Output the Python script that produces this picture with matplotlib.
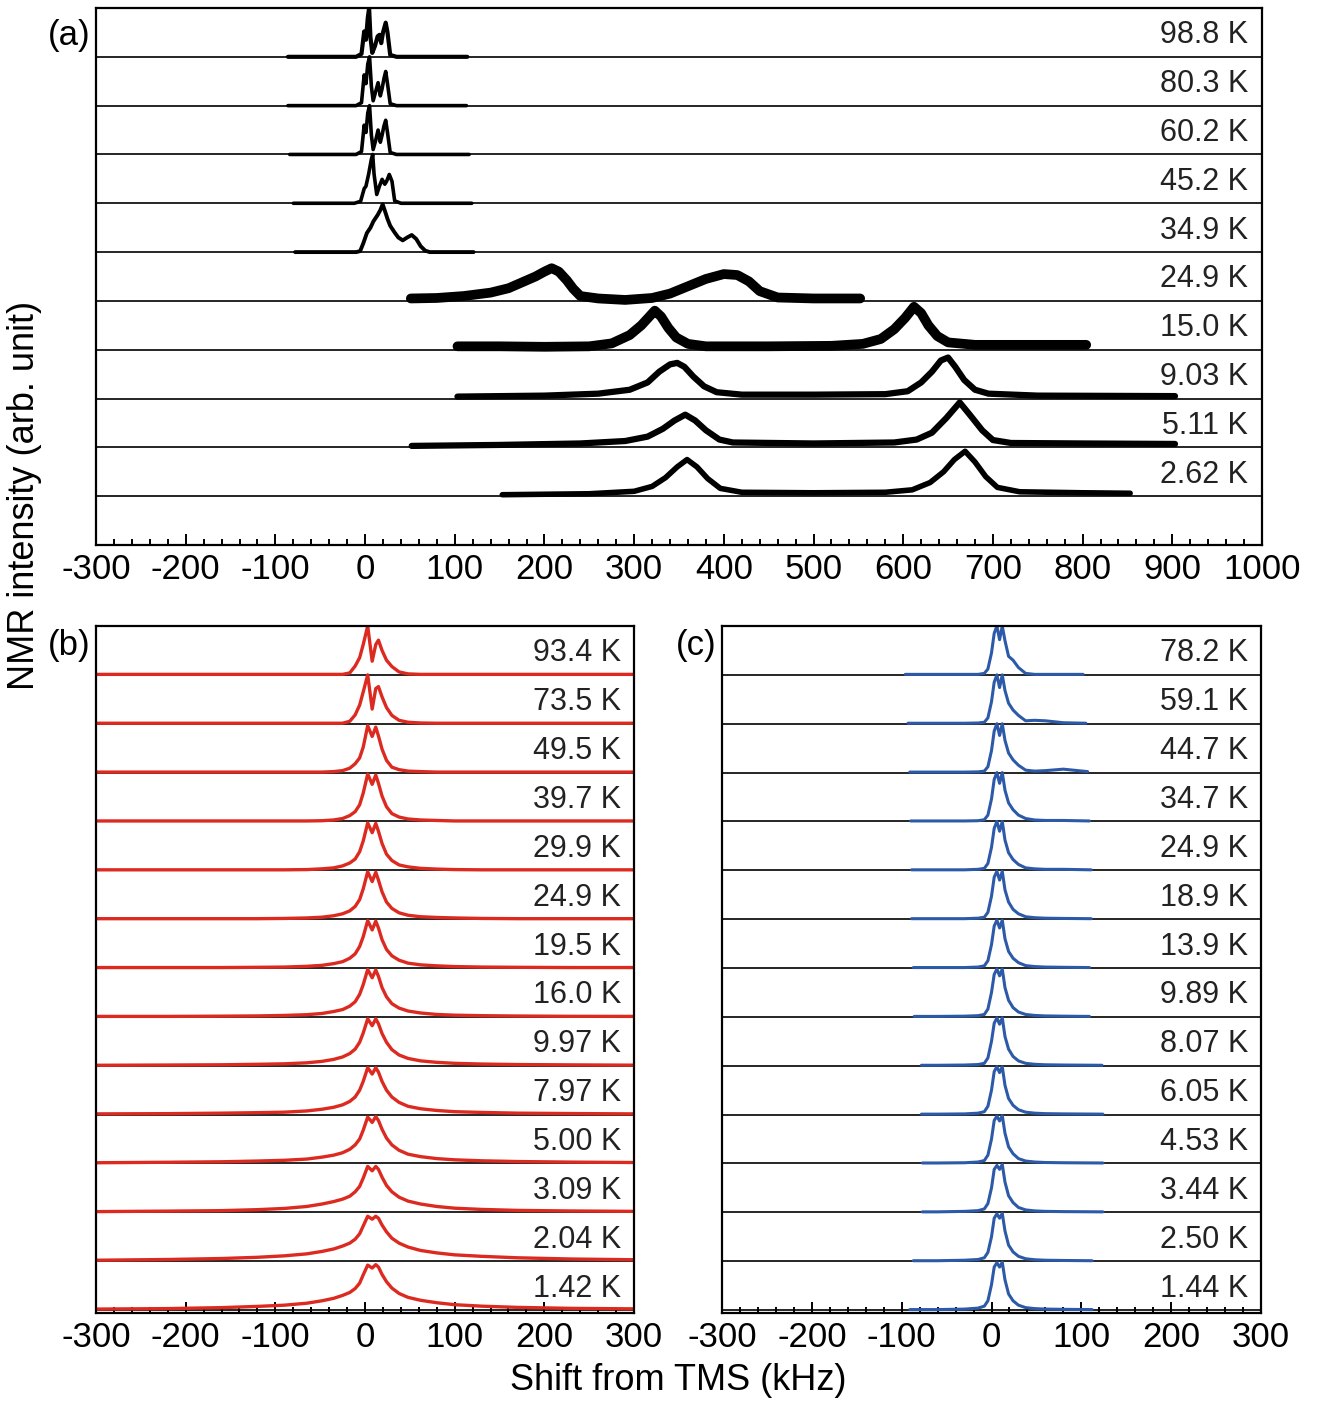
import matplotlib
matplotlib.use("Agg")
import matplotlib.pyplot as plt
import matplotlib.transforms as mtransforms
from matplotlib.ticker import MultipleLocator

plt.rcParams['font.family'] = ['Liberation Sans', 'DejaVu Sans']
plt.rcParams['axes.unicode_minus'] = False

# ─── panel (a): spectra, intensity in units of the stacking step ───
a_temps = ["98.8 K", "80.3 K", "60.2 K", "45.2 K", "34.9 K",
           "24.9 K", "15.0 K", "9.03 K", "5.11 K", "2.62 K"]

a_x = [
    [-86, -10, -4, -1, 1, 3, 4.5, 6, 8, 11, 14, 16, 18, 20, 23, 25, 28, 35, 114],
    [-86, -10, -4, -1, 1, 3, 5, 7, 9, 12, 14.5, 17, 19, 21, 23, 25, 28, 35, 113],
    [-84, -10, -4, -1, 1, 3, 5, 7, 9, 12, 14.5, 17, 19, 21, 23, 25, 28, 35, 116],
    [-80, -12, -5, -1, 1, 4, 7, 8.5, 10, 13, 16, 19, 22, 24, 27, 30, 33, 40, 119],
    [-78, -10, -5.5, -2, 2, 6, 9.3, 14, 17, 19.6, 22, 25, 28, 33, 37, 42, 47, 52, 57, 62, 67, 72, 121],
    [51, 80, 110, 140, 160, 175, 190, 200, 208, 216, 225, 232, 240, 260, 290, 320, 340, 360,
     380, 400, 415, 428, 440, 460, 500, 552],
    [103, 150, 200, 250, 275, 295, 308, 318, 323, 330, 338, 347, 360, 380, 450, 520, 555, 575,
     590, 602, 612, 620, 628, 638, 650, 680, 750, 804],
    [103, 200, 260, 295, 315, 328, 340, 348, 356, 366, 378, 392, 420, 500, 580, 605, 620, 632,
     642, 650, 658, 668, 680, 695, 750, 903],
    [52, 150, 240, 290, 315, 332, 345, 357, 368, 380, 395, 410, 500, 590, 615, 632, 648, 663,
     675, 688, 700, 720, 800, 903],
    [153, 250, 300, 320, 335, 348, 359, 370, 382, 396, 420, 500, 580, 610, 630, 645, 657, 669,
     680, 692, 705, 730, 800, 853],
]
a_y = [
    [0, 0, 0.06, 0.52, 0.35, 0.8, 1.0, 0.4, 0.08, 0.22, 0.42, 0.45, 0.28, 0.5, 0.7, 0.5, 0.04, 0, 0],
    [0, 0, 0.06, 0.63, 0.45, 0.85, 1.0, 0.4, 0.1, 0.3, 0.47, 0.2, 0.35, 0.55, 0.7, 0.45, 0.04, 0, 0],
    [0, 0, 0.06, 0.6, 0.45, 0.85, 1.0, 0.4, 0.1, 0.3, 0.5, 0.25, 0.4, 0.58, 0.7, 0.45, 0.04, 0, 0],
    [0, 0, 0.04, 0.3, 0.35, 0.6, 0.9, 1.0, 0.6, 0.18, 0.35, 0.49, 0.39, 0.45, 0.59, 0.45, 0.05, 0, 0],
    [0, 0, 0.02, 0.18, 0.39, 0.5, 0.63, 0.76, 0.86, 0.98, 0.85, 0.68, 0.54, 0.4, 0.3, 0.24,
     0.3, 0.35, 0.27, 0.12, 0.03, 0, 0],
    [0.05, 0.06, 0.1, 0.17, 0.26, 0.38, 0.5, 0.6, 0.67, 0.6, 0.42, 0.25, 0.1, 0.05, 0.02, 0.06,
     0.15, 0.3, 0.45, 0.55, 0.53, 0.4, 0.2, 0.07, 0.05, 0.05],
    [0.07, 0.07, 0.06, 0.07, 0.13, 0.3, 0.5, 0.7, 0.8, 0.68, 0.45, 0.25, 0.12, 0.07, 0.07, 0.08,
     0.12, 0.22, 0.42, 0.65, 0.88, 0.75, 0.5, 0.28, 0.15, 0.1, 0.1, 0.1],
    [0.04, 0.06, 0.1, 0.18, 0.33, 0.55, 0.7, 0.73, 0.65, 0.45, 0.25, 0.13, 0.08, 0.08, 0.09, 0.15,
     0.33, 0.55, 0.78, 0.84, 0.65, 0.38, 0.18, 0.1, 0.06, 0.05],
    [0.03, 0.05, 0.08, 0.13, 0.22, 0.38, 0.55, 0.67, 0.55, 0.35, 0.16, 0.1, 0.08, 0.1, 0.16, 0.3,
     0.6, 0.92, 0.65, 0.35, 0.15, 0.09, 0.08, 0.07],
    [0.03, 0.05, 0.1, 0.2, 0.38, 0.6, 0.75, 0.6, 0.36, 0.16, 0.08, 0.07, 0.08, 0.13, 0.28, 0.5,
     0.75, 0.92, 0.7, 0.4, 0.18, 0.09, 0.07, 0.06],
]

# ─── panel (b) ───
b_temps = ["93.4 K", "73.5 K", "49.5 K", "39.7 K", "29.9 K", "24.9 K", "19.5 K",
           "16.0 K", "9.97 K", "7.97 K", "5.00 K", "3.09 K", "2.04 K", "1.42 K"]
b_x = [-300, -220, -160, -120, -90, -65, -48, -35, -25, -17, -11, -6, -2, 3, 8,
       12, 15, 19, 24, 30, 38, 48, 62, 80, 100, 130, 170, 230, 300]
b_y = [
    [0.01, 0.01, 0.01, 0.01, 0.01, 0.01, 0.01, 0.01, 0.01, 0.04, 0.18, 0.35, 0.62, 1.0, 0.28,
     0.62, 0.71, 0.5, 0.3, 0.17, 0.06, 0.02, 0.01, 0.01, 0.01, 0.01, 0.01, 0.01, 0.01],
    [0.01, 0.01, 0.01, 0.01, 0.01, 0.01, 0.01, 0.01, 0.01, 0.05, 0.18, 0.38, 0.65, 1.0, 0.3,
     0.72, 0.76, 0.55, 0.33, 0.17, 0.07, 0.03, 0.015, 0.01, 0.01, 0.01, 0.01, 0.01, 0.01],
    [0.01, 0.01, 0.01, 0.01, 0.01, 0.01, 0.01, 0.02, 0.04, 0.09, 0.18, 0.3, 0.52, 0.96, 0.74,
     0.93, 0.75, 0.48, 0.25, 0.11, 0.06, 0.03, 0.02, 0.01, 0.01, 0.01, 0.01, 0.01, 0.01],
    [0.01, 0.01, 0.01, 0.01, 0.01, 0.01, 0.015, 0.03, 0.06, 0.12, 0.2, 0.34, 0.58, 0.97, 0.76,
     0.95, 0.78, 0.52, 0.3, 0.16, 0.09, 0.05, 0.03, 0.02, 0.01, 0.01, 0.01, 0.01, 0.01],
    [0.01, 0.01, 0.01, 0.01, 0.01, 0.015, 0.03, 0.05, 0.09, 0.15, 0.23, 0.38, 0.6, 0.97, 0.77,
     0.96, 0.8, 0.55, 0.33, 0.2, 0.11, 0.07, 0.04, 0.025, 0.015, 0.01, 0.01, 0.01, 0.01],
    [0.01, 0.01, 0.01, 0.01, 0.015, 0.025, 0.04, 0.07, 0.11, 0.17, 0.26, 0.4, 0.62, 0.97, 0.77,
     0.96, 0.8, 0.56, 0.35, 0.22, 0.13, 0.08, 0.05, 0.035, 0.025, 0.015, 0.01, 0.01, 0.01],
    [0.01, 0.01, 0.01, 0.015, 0.02, 0.035, 0.055, 0.09, 0.13, 0.2, 0.29, 0.44, 0.64, 0.97, 0.78,
     0.96, 0.82, 0.58, 0.38, 0.25, 0.16, 0.1, 0.065, 0.045, 0.03, 0.02, 0.015, 0.01, 0.01],
    [0.01, 0.01, 0.015, 0.02, 0.03, 0.045, 0.07, 0.11, 0.15, 0.22, 0.31, 0.46, 0.66, 0.97, 0.8,
     0.96, 0.83, 0.6, 0.41, 0.27, 0.18, 0.12, 0.08, 0.05, 0.035, 0.025, 0.018, 0.012, 0.01],
    [0.01, 0.015, 0.02, 0.03, 0.04, 0.06, 0.09, 0.13, 0.18, 0.25, 0.34, 0.48, 0.67, 0.96, 0.82,
     0.96, 0.86, 0.66, 0.48, 0.33, 0.22, 0.15, 0.1, 0.07, 0.05, 0.035, 0.025, 0.018, 0.012],
    [0.015, 0.02, 0.03, 0.04, 0.05, 0.075, 0.11, 0.15, 0.2, 0.27, 0.36, 0.5, 0.68, 0.96, 0.83,
     0.96, 0.87, 0.68, 0.5, 0.36, 0.25, 0.17, 0.12, 0.085, 0.06, 0.045, 0.03, 0.022, 0.015],
    [0.015, 0.025, 0.035, 0.05, 0.065, 0.09, 0.13, 0.17, 0.22, 0.29, 0.38, 0.5, 0.68, 0.95, 0.84,
     0.96, 0.88, 0.7, 0.52, 0.38, 0.27, 0.19, 0.14, 0.1, 0.075, 0.055, 0.04, 0.028, 0.02],
    [0.015, 0.025, 0.035, 0.055, 0.08, 0.12, 0.17, 0.22, 0.27, 0.33, 0.42, 0.53, 0.7, 0.94, 0.85,
     0.94, 0.88, 0.72, 0.55, 0.42, 0.31, 0.23, 0.17, 0.12, 0.085, 0.06, 0.04, 0.028, 0.02],
    [0.02, 0.035, 0.055, 0.08, 0.11, 0.15, 0.2, 0.25, 0.31, 0.37, 0.45, 0.56, 0.72, 0.92, 0.86,
     0.92, 0.88, 0.74, 0.6, 0.47, 0.37, 0.29, 0.22, 0.17, 0.13, 0.1, 0.07, 0.045, 0.03],
    [0.02, 0.03, 0.05, 0.075, 0.1, 0.14, 0.19, 0.24, 0.3, 0.36, 0.44, 0.55, 0.72, 0.92, 0.86,
     0.93, 0.88, 0.73, 0.58, 0.45, 0.34, 0.26, 0.2, 0.15, 0.11, 0.08, 0.055, 0.035, 0.025],
]

# ─── panel (c) ───
c_temps = ["78.2 K", "59.1 K", "44.7 K", "34.7 K", "24.9 K", "18.9 K", "13.9 K",
           "9.89 K", "8.07 K", "6.05 K", "4.53 K", "3.44 K", "2.50 K", "1.44 K"]
c_lo = [-96, -93, -91, -90, -89, -89, -87, -86, -78, -78, -77, -77, -87, -91]
c_hi = [102, 105, 107, 109, 111, 111, 109, 109, 123, 124, 124, 124, 112, 112]
c_x_inner = [-60, -30, -15, -8, -4, 0, 3, 6, 9, 12, 15, 19, 24, 30, 38, 48, 60, 80]
c_y = [
    [0.01, 0.01, 0.01, 0.01, 0.03, 0.12, 0.45, 0.85, 1.0, 0.72, 1.0, 0.7, 0.38, 0.3, 0.15, 0.03, 0.01, 0.01, 0.01, 0.01],
    [0.01, 0.01, 0.01, 0.015, 0.03, 0.12, 0.45, 0.85, 1.0, 0.74, 1.0, 0.68, 0.42, 0.28, 0.17, 0.06, 0.07, 0.06, 0.02, 0.01],
    [0.01, 0.01, 0.01, 0.015, 0.03, 0.12, 0.45, 0.85, 1.0, 0.76, 1.0, 0.66, 0.4, 0.26, 0.15, 0.05, 0.03, 0.04, 0.07, 0.02],
    [0.01, 0.01, 0.01, 0.015, 0.035, 0.13, 0.46, 0.86, 1.0, 0.78, 1.0, 0.64, 0.38, 0.24, 0.13, 0.06, 0.03, 0.02, 0.02, 0.01],
    [0.01, 0.01, 0.01, 0.02, 0.04, 0.14, 0.47, 0.86, 1.0, 0.8, 1.0, 0.62, 0.36, 0.22, 0.12, 0.05, 0.03, 0.02, 0.02, 0.01],
    [0.01, 0.01, 0.01, 0.02, 0.04, 0.14, 0.47, 0.86, 0.98, 0.8, 0.98, 0.6, 0.35, 0.2, 0.11, 0.05, 0.03, 0.02, 0.015, 0.01],
    [0.01, 0.01, 0.01, 0.02, 0.045, 0.15, 0.48, 0.86, 0.98, 0.82, 0.98, 0.6, 0.34, 0.2, 0.11, 0.05, 0.03, 0.02, 0.015, 0.01],
    [0.01, 0.01, 0.015, 0.025, 0.05, 0.16, 0.5, 0.87, 0.98, 0.84, 0.98, 0.6, 0.34, 0.19, 0.1, 0.05, 0.03, 0.02, 0.015, 0.01],
    [0.01, 0.01, 0.015, 0.025, 0.05, 0.16, 0.5, 0.87, 0.98, 0.85, 0.98, 0.6, 0.34, 0.19, 0.1, 0.05, 0.03, 0.02, 0.015, 0.01],
    [0.01, 0.01, 0.015, 0.03, 0.06, 0.17, 0.5, 0.88, 0.98, 0.86, 0.98, 0.6, 0.33, 0.19, 0.1, 0.05, 0.03, 0.02, 0.015, 0.01],
    [0.01, 0.01, 0.015, 0.03, 0.06, 0.17, 0.5, 0.88, 0.97, 0.87, 0.98, 0.62, 0.34, 0.2, 0.1, 0.05, 0.03, 0.02, 0.015, 0.01],
    [0.01, 0.01, 0.02, 0.035, 0.07, 0.18, 0.5, 0.88, 0.96, 0.88, 0.98, 0.62, 0.34, 0.2, 0.1, 0.05, 0.03, 0.02, 0.015, 0.01],
    [0.01, 0.01, 0.02, 0.035, 0.07, 0.18, 0.5, 0.88, 0.97, 0.88, 0.98, 0.62, 0.33, 0.19, 0.1, 0.05, 0.03, 0.02, 0.015, 0.01],
    [0.01, 0.01, 0.02, 0.04, 0.08, 0.19, 0.52, 0.88, 0.97, 0.88, 0.98, 0.62, 0.33, 0.19, 0.1, 0.05, 0.03, 0.02, 0.015, 0.01],
]

# line widths for the black traces (thicker = noisier spectrum)
a_lw = [3.0, 2.6, 2.6, 2.6, 2.8, 7.0, 7.0, 4.5, 4.5, 4.0]

W, H = 1319, 1403
fig = plt.figure(figsize=(W / 100, H / 100), dpi=100)


def px_axes(left, top, right, bottom):
    return fig.add_axes([left / W, 1 - bottom / H, (right - left) / W, (bottom - top) / H])


ax_a = px_axes(96, 8, 1262, 545)
ax_b = px_axes(96, 626, 634, 1313)
ax_c = px_axes(722, 626, 1261, 1313)


def style(ax, xlim, ylim):
    ax.set_xlim(*xlim)
    ax.set_ylim(*ylim)
    ax.xaxis.set_major_locator(MultipleLocator(100))
    ax.xaxis.set_minor_locator(MultipleLocator(20))
    ax.tick_params(axis='x', which='both', direction='in', top=False,
                   labelsize=25, pad=6, width=1.4)
    ax.tick_params(axis='x', which='major', length=8)
    ax.tick_params(axis='x', which='minor', length=4)
    ax.set_yticks([])
    for s in ax.spines.values():
        s.set_linewidth(1.6)


def stack(ax, xs, ys, temps, color, lws, label_x, offset):
    n = len(temps)
    trans = mtransforms.blended_transform_factory(ax.transAxes, ax.transData)
    for i in range(n):
        base = n - 1 - i + offset
        ax.axhline(base, color='black', lw=1.2, zorder=1)
        ax.plot(xs[i], [v + base for v in ys[i]], color=color, lw=lws[i],
                solid_joinstyle='round', solid_capstyle='round', zorder=2)
        ax.text(label_x, base + 0.44, temps[i], transform=trans, ha='right',
                va='center', fontsize=22, color='#222222', zorder=3)


# (a)
style(ax_a, (-300, 1000), (0, 11))
stack(ax_a, a_x, a_y, a_temps, 'black', a_lw, 0.988, 1)

# (b)
style(ax_b, (-300, 300), (-0.06, 14.0))
stack(ax_b, [b_x] * len(b_temps), b_y, b_temps, '#dc2a20', [2.4] * len(b_temps), 0.976, 0)

# (c)
style(ax_c, (-300, 300), (-0.06, 14.0))
c_x = [[c_lo[i]] + c_x_inner + [c_hi[i]] for i in range(len(c_temps))]
stack(ax_c, c_x, c_y, c_temps, '#2d5aa8', [2.2] * len(c_temps), 0.976, 0)

# panel letters and shared axis labels
fig.text(90 / W, 1 - 35 / H, "(a)", ha='right', va='center', fontsize=25)
fig.text(90 / W, 1 - 645 / H, "(b)", ha='right', va='center', fontsize=25)
fig.text(716 / W, 1 - 645 / H, "(c)", ha='right', va='center', fontsize=25)
fig.text(25 / W, 1 - 495 / H, "NMR intensity (arb. unit)", rotation=90,
         ha='center', va='center', fontsize=26)
fig.text(678 / W, 1 - 1381 / H, "Shift from TMS (kHz)", ha='center',
         va='center', fontsize=26)

fig.savefig("out.png", dpi=100)
